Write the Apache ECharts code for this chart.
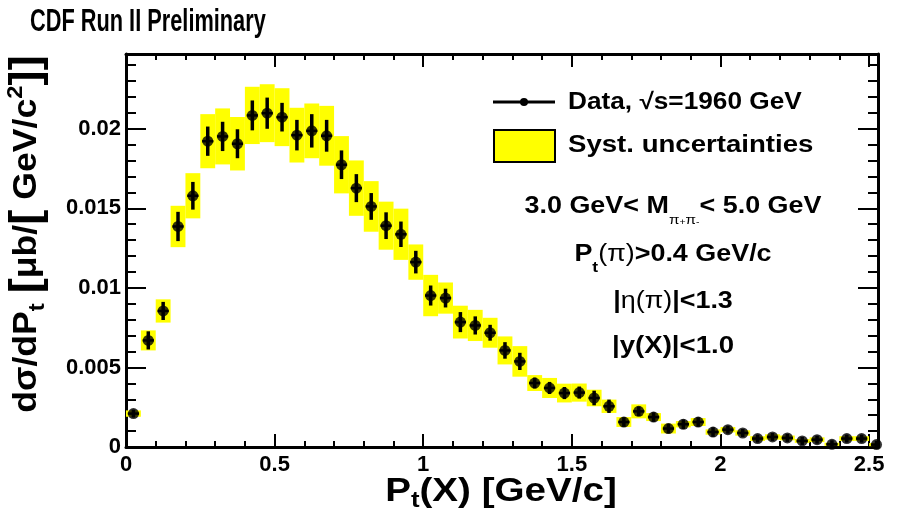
<!DOCTYPE html>
<html>
<head>
<meta charset="utf-8">
<script src="https://cdn.jsdelivr.net/npm/echarts@6/dist/echarts.min.js"></script>
<style>
  html, body { margin: 0; padding: 0; background: #ffffff; }
  #chart { width: 900px; height: 520px; }
</style>
</head>
<body>
<div id="chart"></div>
<script>
// Transverse-momentum spectrum of X -> pi+ pi-, bins of 0.05 GeV/c
const binCenters = [
  0.025, 0.075, 0.125, 0.175, 0.225, 0.275, 0.325, 0.375, 0.425, 0.475,
  0.525, 0.575, 0.625, 0.675, 0.725, 0.775, 0.825, 0.875, 0.925, 0.975,
  1.025, 1.075, 1.125, 1.175, 1.225, 1.275, 1.325, 1.375, 1.425, 1.475,
  1.525, 1.575, 1.625, 1.675, 1.725, 1.775, 1.825, 1.875, 1.925, 1.975,
  2.025, 2.075, 2.125, 2.175, 2.225, 2.275, 2.325, 2.375, 2.425, 2.475,
  2.525
];
const dSigma = [
  0.00210, 0.00670, 0.00855, 0.01386, 0.01579, 0.01922, 0.01952, 0.01906, 0.02084, 0.02098,
  0.02073, 0.01960, 0.01987, 0.01956, 0.01774, 0.01627, 0.01512, 0.01391, 0.01337, 0.01162,
  0.00952, 0.00936, 0.00785, 0.00764, 0.00718, 0.00607, 0.00538, 0.00402, 0.00371, 0.00339,
  0.00342, 0.00308, 0.00256, 0.00157, 0.00224, 0.00188, 0.00116, 0.00143, 0.00157, 0.00094,
  0.00109, 0.00088, 0.00053, 0.00063, 0.00057, 0.00038, 0.00046, 0.00017, 0.00053, 0.00053,
  0.00015
];
const statErr = [
  0.00025, 0.00057, 0.00057, 0.00092, 0.00087, 0.00092, 0.00092, 0.00091, 0.00094, 0.00098,
  0.00090, 0.00096, 0.00105, 0.00100, 0.00090, 0.00088, 0.00084, 0.00084, 0.00080, 0.00071,
  0.00063, 0.00059, 0.00063, 0.00057, 0.00050, 0.00052, 0.00054, 0.00034, 0.00038, 0.00038,
  0.00038, 0.00046, 0.00042, 0.00030, 0.00030, 0.00030, 0.00030, 0.00030, 0.00030, 0.00030,
  0.00025, 0.00025, 0.00025, 0.00025, 0.00025, 0.00025, 0.00025, 0.00025, 0.00025, 0.00025,
  0.00025
];
const systErr = [
  0.00020, 0.00063, 0.00073, 0.00130, 0.00142, 0.00170, 0.00176, 0.00168, 0.00180, 0.00182,
  0.00182, 0.00172, 0.00172, 0.00188, 0.00180, 0.00174, 0.00159, 0.00151, 0.00161, 0.00111,
  0.00130, 0.00098, 0.00103, 0.00098, 0.00094, 0.00088, 0.00096, 0.00050, 0.00063, 0.00059,
  0.00057, 0.00052, 0.00042, 0.00031, 0.00044, 0.00025, 0.00031, 0.00020, 0.00025, 0.00017,
  0.00017, 0.00017, 0.00015, 0.00017, 0.00015, 0.00012, 0.00015, 0.00010, 0.00015, 0.00015,
  0.00010
];

const xTickValues = [0, 0.5, 1, 1.5, 2, 2.5];
const xTickLabels = ['0', '0.5', '1', '1.5', '2', '2.5'];
const yTickValues = [0, 0.005, 0.01, 0.015, 0.02];
const yTickLabels = ['0', '0.005', '0.01', '0.015', '0.02'];

const X_MIN = 0, X_MAX = 2.53;
const Y_MIN = 0, Y_MAX = 0.0247;
const X_MAJOR = 0.5, X_MINOR = 0.1;
const Y_MAJOR = 0.005, Y_MINOR = 0.001;
const BIN_HALF = 0.025;   // half bin width (systematic boxes)
const ERRX_HALF = 0.019;  // horizontal error-bar arm

const FONT = '"Liberation Sans", Arial, Helvetica, sans-serif';
const YELLOW = '#ffff00';

const rows = binCenters.map((x, i) => [x, dSigma[i], statErr[i], systErr[i]]);

function labelFor(values, labels) {
  return function (v) {
    for (let i = 0; i < values.length; i++) {
      if (Math.abs(values[i] - v) < 1e-9) return labels[i];
    }
    return '';
  };
}

const tickLabelStyle = { color: '#000', fontFamily: FONT, fontWeight: 'bold', fontSize: 22 };

// One grid carries the frame, major ticks and labels; an identical grid on top carries the minor ticks.
function axis(kind, gridIndex, position, interval, tickLen, frame, labels) {
  const isX = kind === 'x';
  const a = {
    type: 'value', gridIndex: gridIndex, position: position,
    min: isX ? X_MIN : Y_MIN, max: isX ? X_MAX : Y_MAX, interval: interval,
    axisLine: frame
      ? { show: true, onZero: false, lineStyle: { color: '#000', width: 3 } }
      : { show: false, onZero: false },
    axisTick: { show: true, inside: true, length: tickLen, lineStyle: { color: '#000', width: 2 } },
    axisLabel: { show: false },
    splitLine: { show: false }
  };
  if (labels) {
    a.axisLabel = Object.assign({
      show: true, margin: isX ? 7 : 5,
      formatter: isX ? labelFor(xTickValues, xTickLabels) : labelFor(yTickValues, yTickLabels)
    }, tickLabelStyle);
  }
  return a;
}

const gridBox = { left: 126, right: 22, top: 54, bottom: 73, containLabel: false, outerBoundsMode: 'none' };

const option = {
  backgroundColor: '#ffffff',
  animation: false,
  grid: [Object.assign({}, gridBox), Object.assign({}, gridBox)],
  xAxis: [
    axis('x', 0, 'bottom', X_MAJOR, 13, true, true),
    axis('x', 0, 'top', X_MAJOR, 13, true, false),
    axis('x', 1, 'bottom', X_MINOR, 6, false, false),
    axis('x', 1, 'top', X_MINOR, 6, false, false)
  ],
  yAxis: [
    axis('y', 0, 'left', Y_MAJOR, 20, true, true),
    axis('y', 0, 'right', Y_MAJOR, 20, true, false),
    axis('y', 1, 'left', Y_MINOR, 10, false, false),
    axis('y', 1, 'right', Y_MINOR, 10, false, false)
  ],
  series: [
    {
      name: 'Syst. uncertainties', type: 'custom', xAxisIndex: 0, yAxisIndex: 0,
      clip: true, data: rows, z: 1,
      renderItem: function (params, api) {
        const x = api.value(0), y = api.value(1), s = api.value(3);
        const p0 = api.coord([x - BIN_HALF, y + s]);
        const p1 = api.coord([x + BIN_HALF, y - s]);
        return {
          type: 'rect',
          shape: { x: p0[0], y: p0[1], width: p1[0] - p0[0], height: p1[1] - p0[1] },
          style: { fill: YELLOW }
        };
      }
    },
    {
      name: 'stat', type: 'custom', xAxisIndex: 0, yAxisIndex: 0,
      clip: true, data: rows, z: 2,
      renderItem: function (params, api) {
        const x = api.value(0), y = api.value(1), e = api.value(2);
        const top = api.coord([x, y + e]);
        const bot = api.coord([x, y - e]);
        const l = api.coord([x - ERRX_HALF, y]);
        const r = api.coord([x + ERRX_HALF, y]);
        return {
          type: 'group',
          children: [
            { type: 'line', shape: { x1: top[0], y1: top[1], x2: bot[0], y2: bot[1] },
              style: { stroke: '#000', lineWidth: 3.5 } },
            { type: 'line', shape: { x1: l[0], y1: l[1], x2: r[0], y2: r[1] },
              style: { stroke: '#000', lineWidth: 2.5 } }
          ]
        };
      }
    },
    {
      name: 'Data', type: 'scatter', xAxisIndex: 0, yAxisIndex: 0,
      data: rows.map(r => [r[0], r[1]]), symbol: 'circle', symbolSize: 11,
      itemStyle: { color: '#000' }, z: 3, clip: true
    }
  ],
  graphic: [
    // header
    { type: 'text', x: 30, y: 22, scaleX: 0.68,
      style: { text: 'CDF Run II Preliminary', font: 'bold 32px ' + FONT, fill: '#000', verticalAlign: 'middle' } },
    // axis titles
    { type: 'text', x: 501, y: 492, scaleX: 1.17,
      style: {
        text: '{p|P}{s|t}{p|(X) [GeV/c]}', align: 'center', verticalAlign: 'middle',
        rich: {
          p: { font: 'bold 33px ' + FONT, fill: '#000', lineHeight: 40 },
          s: { font: 'bold 22px ' + FONT, fill: '#000', lineHeight: 14, verticalAlign: 'bottom' }
        }
      } },
    { type: 'text', x: 27, y: 234, rotation: Math.PI / 2, scaleX: 1.08,
      style: {
        text: '{t|d\u03c3/dP}{s|t}{t| }{b|[}{t|\u03bcb/}{b|[}{t| GeV/c}{u|2}{b|]]}',
        align: 'center', verticalAlign: 'middle',
        rich: {
          t: { font: 'bold 33px ' + FONT, fill: '#000', lineHeight: 44 },
          s: { font: 'bold 22px ' + FONT, fill: '#000', lineHeight: 16, verticalAlign: 'bottom' },
          u: { font: 'bold 22px ' + FONT, fill: '#000', lineHeight: 14, verticalAlign: 'top' },
          b: { font: 'bold 42px ' + FONT, fill: '#000', lineHeight: 44 }
        }
      } },
    // legend
    { type: 'line', shape: { x1: 493, y1: 102, x2: 555, y2: 102 }, style: { stroke: '#000', lineWidth: 3 } },
    { type: 'circle', shape: { cx: 524, cy: 102, r: 4 }, style: { fill: '#000' } },
    { type: 'rect', shape: { x: 494, y: 130, width: 61, height: 32 },
      style: { fill: YELLOW, stroke: '#000', lineWidth: 2 } },
    { type: 'text', x: 568, y: 103, scaleX: 1.14,
      style: { text: 'Data, \u221As=1960 GeV', font: 'bold 23px ' + FONT, fill: '#000', verticalAlign: 'middle' } },
    { type: 'text', x: 568, y: 146, scaleX: 1.2,
      style: { text: 'Syst. uncertainties', font: 'bold 23px ' + FONT, fill: '#000', verticalAlign: 'middle' } },
    // selection cuts
    { type: 'text', x: 673, y: 207, scaleX: 1.17,
      style: {
        text: '{n|3.0 GeV< M}{s|\u03c0}{u|+}{s|\u03c0}{u|-}{n|< 5.0 GeV}',
        align: 'center', verticalAlign: 'middle',
        rich: {
          n: { font: 'bold 23px ' + FONT, fill: '#000', lineHeight: 40 },
          s: { font: '13px ' + FONT, fill: '#000', lineHeight: 10, verticalAlign: 'bottom' },
          u: { font: '9px ' + FONT, fill: '#000', lineHeight: 18, verticalAlign: 'bottom' }
        }
      } },
    { type: 'text', x: 673, y: 255, scaleX: 1.17,
      style: {
        text: '{n|P}{s|t}{g|(\u03c0)}{n|>0.4 GeV/c}',
        align: 'center', verticalAlign: 'middle',
        rich: {
          n: { font: 'bold 23px ' + FONT, fill: '#000', lineHeight: 40 },
          g: { font: '23px ' + FONT, fill: '#000', lineHeight: 40 },
          s: { font: 'bold 15px ' + FONT, fill: '#000', lineHeight: 20, verticalAlign: 'bottom' }
        }
      } },
    { type: 'text', x: 673, y: 302, scaleX: 1.17,
      style: {
        text: '{n||}{g|\u03b7(\u03c0)}{n||<1.3}',
        align: 'center', verticalAlign: 'middle',
        rich: {
          n: { font: 'bold 23px ' + FONT, fill: '#000', lineHeight: 40 },
          g: { font: '23px ' + FONT, fill: '#000', lineHeight: 40 }
        }
      } },
    { type: 'text', x: 673, y: 347, scaleX: 1.2,
      style: { text: '|y(X)|<1.0', font: 'bold 23px ' + FONT, fill: '#000', align: 'center', verticalAlign: 'middle' } }
  ]
};

const chart = echarts.init(document.getElementById('chart'), null, { renderer: 'canvas' });
chart.setOption(option);
</script>
</body>
</html>
